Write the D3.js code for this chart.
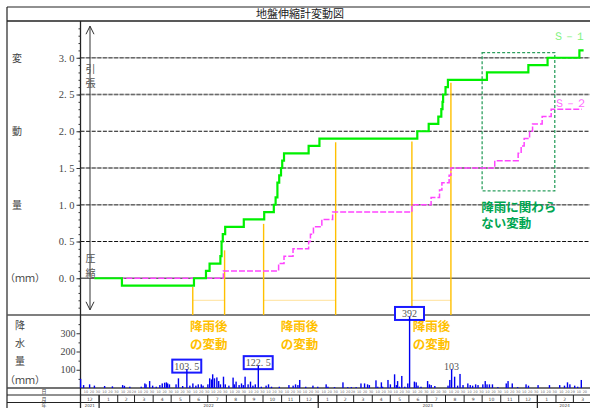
<!DOCTYPE html>
<html><head><meta charset="utf-8">
<script src="https://cdn.jsdelivr.net/npm/d3@7"></script>
<style>
html,body{margin:0;padding:0;background:#fff;}
svg{display:block;}
</style></head>
<body>
<svg id="chart" width="590" height="408"></svg>
<script>
// ---- data ----
const chartTitle = "地盤伸縮計変動図";

// S-1 cumulative displacement (mm), step changes by date
const s1Steps = [
  ["2021-12-24", 0.0], ["2022-02-08", -0.1], ["2022-06-08", 0.0], ["2022-06-28", 0.1],
  ["2022-07-04", 0.2], ["2022-07-22", 0.3], ["2022-07-24", 0.5], ["2022-07-26", 0.6],
  ["2022-07-30", 0.7], ["2022-08-30", 0.8], ["2022-10-03", 0.9], ["2022-10-19", 1.0],
  ["2022-10-22", 1.1], ["2022-10-25", 1.3], ["2022-10-28", 1.4], ["2022-10-31", 1.5],
  ["2022-11-02", 1.6], ["2022-11-05", 1.7], ["2022-12-16", 1.8], ["2023-01-03", 1.9],
  ["2023-06-15", 2.0], ["2023-07-04", 2.1], ["2023-07-20", 2.2], ["2023-07-25", 2.3],
  ["2023-07-27", 2.4], ["2023-07-28", 2.5], ["2023-08-01", 2.6], ["2023-08-05", 2.7],
  ["2023-10-09", 2.8], ["2023-12-17", 2.9], ["2024-01-18", 3.0], ["2024-03-11", 3.1],
  ["2024-03-18", 3.1]
];

// S-2 cumulative displacement (mm)
const s2Steps = [
  ["2021-12-24", 0.0], ["2022-07-27", 0.1], ["2022-10-27", 0.2], ["2022-11-05", 0.3],
  ["2022-11-20", 0.4], ["2022-12-16", 0.5], ["2022-12-19", 0.6], ["2022-12-24", 0.7],
  ["2023-01-07", 0.8], ["2023-01-25", 0.9], ["2023-06-06", 1.0], ["2023-07-08", 1.1],
  ["2023-07-22", 1.2], ["2023-07-26", 1.3], ["2023-08-07", 1.4], ["2023-08-10", 1.5],
  ["2023-10-22", 1.6], ["2023-11-30", 1.7], ["2023-12-05", 1.8], ["2023-12-10", 1.9],
  ["2023-12-19", 2.0], ["2023-12-24", 2.1], ["2024-01-09", 2.2], ["2024-01-24", 2.3],
  ["2024-03-15", 2.3]
];

// daily rainfall (mm)
const rainDays = [
  ["2021-12-01",50],["2021-12-06",16],["2021-12-16",20],["2021-12-24",13],
  ["2022-01-10",11],["2022-01-23",9],["2022-02-09",16],["2022-02-12",12],["2022-02-21",7],
  ["2022-03-12",7],["2022-03-18",25],["2022-03-20",20],["2022-03-26",38],["2022-03-31",13],
  ["2022-04-06",7],["2022-04-12",16],["2022-04-16",25],["2022-04-20",29],["2022-04-23",31],
  ["2022-04-25",25],["2022-04-28",20],["2022-05-09",20],["2022-05-13",53],["2022-05-20",11],
  ["2022-05-27",103.5],["2022-06-01",13],["2022-06-06",25],["2022-06-11",13],["2022-06-15",20],
  ["2022-06-20",20],["2022-06-23",13],["2022-07-01",20],["2022-07-04",53],["2022-07-07",47],
  ["2022-07-09",75],["2022-07-12",53],["2022-07-16",58],["2022-07-19",38],["2022-07-22",20],
  ["2022-07-27",62],["2022-07-30",20],["2022-08-05",13],["2022-08-12",57],["2022-08-14",20],
  ["2022-08-17",35],["2022-08-22",16],["2022-08-26",25],["2022-08-29",16],["2022-09-01",62],
  ["2022-09-06",20],["2022-09-10",35],["2022-09-14",13],["2022-09-18",20],["2022-09-23",122.5],
  ["2022-09-28",7],["2022-10-06",13],["2022-10-10",20],["2022-10-15",7],["2022-10-28",7],
  ["2022-11-13",16],["2022-11-20",13],["2022-11-24",20],["2022-11-28",16],["2022-12-01",44],
  ["2022-12-11",7],["2022-12-23",13],["2022-12-31",7],["2023-01-14",20],["2023-01-17",7],
  ["2023-01-28",5],["2023-02-11",31],["2023-02-19",5],["2023-02-25",5],["2023-03-05",5],
  ["2023-03-13",25],["2023-03-19",25],["2023-03-24",20],["2023-03-27",16],["2023-04-07",42],
  ["2023-04-10",7],["2023-04-16",31],["2023-04-18",7],["2023-04-27",44],["2023-05-01",20],
  ["2023-05-08",75],["2023-05-11",16],["2023-05-13",38],["2023-05-16",7],["2023-05-20",66],
  ["2023-05-25",7],["2023-05-30",25],["2023-06-02",392],["2023-06-10",35],["2023-06-13",31],
  ["2023-06-16",13],["2023-06-21",7],["2023-07-02",38],["2023-07-05",20],["2023-07-08",16],
  ["2023-07-14",11],["2023-08-05",13],["2023-08-08",44],["2023-08-11",103],["2023-08-16",62],
  ["2023-08-21",13],["2023-08-25",77],["2023-08-30",16],["2023-09-07",25],["2023-09-11",16],
  ["2023-09-15",13],["2023-09-20",20],["2023-09-24",16],["2023-10-02",20],["2023-10-06",38],
  ["2023-10-09",20],["2023-10-13",20],["2023-10-18",20],["2023-10-27",5],["2023-11-10",25],
  ["2023-11-13",38],["2023-11-20",25],["2023-11-29",5],["2023-12-13",20],["2023-12-17",13],
  ["2024-01-02",16],["2024-01-21",16],["2024-02-07",16],["2024-02-15",13],["2024-02-20",31],
  ["2024-02-24",20],["2024-03-03",13],["2024-03-08",7],["2024-03-14",44]
];

// rainfall values called out on the chart
const boxedRain = ["2022-05-27", "2022-09-23", "2023-06-02"];
const plainRain = ["2023-08-11"];

// post-rain displacement windows: start, end, marker top at start, marker top at end (mm)
const rainWindows = [
  ["2022-06-06", "2022-07-29", -0.12, 0.38],
  ["2022-10-02", "2023-01-30", 0.74, 1.85],
  ["2023-06-06", "2023-08-10", 1.86, 2.66]
];
const rainWindowLabel = ["降雨後", "の変動"];

// window of displacement not related to rain
const dryWindow = { from: "2023-10-01", to: "2024-01-30", low: 1.19, high: 3.07 };
const dryWindowLabel = ["降雨に関わら", "ない変動"];

const dispTicks = [0.0, 0.5, 1.0, 1.5, 2.0, 2.5, 3.0];
const rainTicks = [100, 200, 300];
const dispAxisTitle = ["変", "動", "量", "（ｍｍ）"];
const rainAxisTitle = ["降", "水", "量", "（ｍｍ）"];
const seriesNames = ["Ｓ－１", "Ｓ－２"];
const dayLabels = [10, 20, 30];

// ---- drawing ----
const parse = d3.timeParse("%Y-%m-%d");
const svg = d3.select("#chart");
const serifNum = "'Liberation Serif','DejaVu Serif',serif";
const cjk = "'Noto Sans CJK JP','Noto Sans',sans-serif";

const x = d3.scaleTime().domain([new Date(2021, 11, 1), new Date(2024, 3, 1)]).range([80.5, 592]);
const y = d3.scaleLinear().domain([-0.5, 3.5]).range([315, 21]);
const yr = d3.scaleLinear().domain([0, 400]).range([388, 315]);
const X0 = 80.5, X1 = 596;

// frame & title row
svg.append("line").attr("x1", 7).attr("x2", 7).attr("y1", 7).attr("y2", 410).attr("stroke", "#222").attr("stroke-width", 1.2);
svg.append("line").attr("x1", 7).attr("x2", 600).attr("y1", 7).attr("y2", 7).attr("stroke", "#222").attr("stroke-width", 1.2);
svg.append("line").attr("x1", 7).attr("x2", 600).attr("y1", 21).attr("y2", 21).attr("stroke", "#222").attr("stroke-width", 1.5);
svg.append("text").attr("x", 300).attr("y", 18).attr("text-anchor", "middle")
  .attr("font-family", cjk).attr("font-size", 11).attr("fill", "#222").text(chartTitle);

// displacement grid
dispTicks.forEach(v => {
  if (v === 0) return;
  const dark = (v === 2.0 || v === 0.5);
  if (!dark) {
    svg.append("line").attr("x1", X0).attr("x2", X1).attr("y1", y(v)).attr("y2", y(v))
      .attr("stroke", "#c8c8c8").attr("stroke-width", 1.4);
  }
  svg.append("line").attr("x1", X0).attr("x2", X1).attr("y1", y(v)).attr("y2", y(v))
    .attr("stroke", dark ? "#111" : "#6a6a6a").attr("stroke-width", dark ? 1 : 1.4)
    .attr("stroke-dasharray", "4,1.6");
});
svg.append("line").attr("x1", X0).attr("x2", X1).attr("y1", y(0)).attr("y2", y(0))
  .attr("stroke", "#666").attr("stroke-width", 1.5);

// panel separator and calendar rows
svg.append("line").attr("x1", 7).attr("x2", 600).attr("y1", 315).attr("y2", 315).attr("stroke", "#555").attr("stroke-width", 1.6);
svg.append("line").attr("x1", 7).attr("x2", 600).attr("y1", 388).attr("y2", 388).attr("stroke", "#444").attr("stroke-width", 1.5);
svg.append("line").attr("x1", 7).attr("x2", 600).attr("y1", 395).attr("y2", 395).attr("stroke", "#222").attr("stroke-width", 1);
svg.append("line").attr("x1", 7).attr("x2", 600).attr("y1", 402.5).attr("y2", 402.5).attr("stroke", "#222").attr("stroke-width", 1);

// left axis
svg.append("line").attr("x1", X0).attr("x2", X0).attr("y1", 21).attr("y2", 410).attr("stroke", "#222").attr("stroke-width", 1.3);
const dAxis = svg.append("g").attr("transform", `translate(${X0},0)`)
  .call(d3.axisLeft(y).tickValues(d3.range(-0.4, 3.45, 0.1)).tickSize(2).tickFormat(""));
dAxis.select(".domain").remove();
dAxis.selectAll("line").attr("stroke", "#333");
const dMajor = svg.append("g").attr("transform", `translate(${X0},0)`)
  .call(d3.axisLeft(y).tickValues(dispTicks).tickSize(4).tickPadding(2)
    .tickFormat(d => d3.format(".1f")(d).replace(".", ". ")));
dMajor.select(".domain").remove();
dMajor.selectAll("line").attr("stroke", "#333");
dMajor.selectAll("text").attr("font-family", serifNum).attr("font-size", 10.5).attr("fill", "#444");

const rAxis = svg.append("g").attr("transform", `translate(${X0},0)`)
  .call(d3.axisLeft(yr).tickValues([50, 150, 250, 350]).tickSize(2).tickFormat(""));
rAxis.select(".domain").remove();
rAxis.selectAll("line").attr("stroke", "#333");
const rMajor = svg.append("g").attr("transform", `translate(${X0},0)`)
  .call(d3.axisLeft(yr).tickValues(rainTicks).tickSize(4).tickPadding(1));
rMajor.select(".domain").remove();
rMajor.selectAll("line").attr("stroke", "#333");
rMajor.selectAll("text").attr("font-family", serifNum).attr("font-size", 10).attr("fill", "#444");

// axis titles
const dTitleY = [3.0, 2.0, 1.0, 0.0];
dispAxisTitle.forEach((t, i) => {
  svg.append("text").attr("x", i === 3 ? 25 : 17).attr("y", y(dTitleY[i]) + 4).attr("text-anchor", "middle")
    .attr("font-family", cjk).attr("font-size", 10).attr("fill", "#444").text(t);
});
const rTitleY = [326, 344, 362, 381];
rainAxisTitle.forEach((t, i) => {
  svg.append("text").attr("x", i === 3 ? 25 : 20).attr("y", rTitleY[i] + 3).attr("text-anchor", "middle")
    .attr("font-family", cjk).attr("font-size", 10).attr("fill", "#444").text(t);
});

// tension / compression arrows
const ax = 90;
svg.append("path").attr("d", `M${ax},${y(0.02)}V${y(3.43)}M${ax - 4},${y(3.32)}L${ax},${y(3.43)}L${ax + 4},${y(3.32)}`)
  .attr("fill", "none").attr("stroke", "#333").attr("stroke-width", 1);
svg.append("path").attr("d", `M${ax},${y(0)}V${y(-0.43)}M${ax - 4},${y(-0.32)}L${ax},${y(-0.43)}L${ax + 4},${y(-0.32)}`)
  .attr("fill", "none").attr("stroke", "#333").attr("stroke-width", 1);
[["引", 2.85], ["張", 2.66], ["圧", 0.27], ["縮", 0.07]].forEach(([t, v]) => {
  svg.append("text").attr("x", ax + 0.5).attr("y", y(v) + 4).attr("text-anchor", "middle")
    .attr("font-family", cjk).attr("font-size", 10).attr("fill", "#555").text(t);
});

// rain windows (orange markers)
const orange = "#ffc000";
rainWindows.forEach(([a, b, ta, tb]) => {
  const xa = x(parse(a)), xb = x(parse(b));
  svg.append("line").attr("x1", xa).attr("x2", xb).attr("y1", y(-0.3)).attr("y2", y(-0.3))
    .attr("stroke", "#ffe29a").attr("stroke-width", 1);
  svg.append("line").attr("x1", xa).attr("x2", xa).attr("y1", y(ta)).attr("y2", y(-0.5))
    .attr("stroke", orange).attr("stroke-width", 1.4);
  svg.append("line").attr("x1", xb).attr("x2", xb).attr("y1", y(tb)).attr("y2", y(-0.5))
    .attr("stroke", orange).attr("stroke-width", 1.4);
});

// dry window box
svg.append("rect")
  .attr("x", x(parse(dryWindow.from))).attr("y", y(dryWindow.high))
  .attr("width", x(parse(dryWindow.to)) - x(parse(dryWindow.from)))
  .attr("height", y(dryWindow.low) - y(dryWindow.high))
  .attr("fill", "none").attr("stroke", "#2ea060").attr("stroke-width", 1.3).attr("stroke-dasharray", "3,2");
dryWindowLabel.forEach((t, i) => {
  svg.append("text").attr("x", x(parse(dryWindow.from)) - 1).attr("y", y(dryWindow.low) + 21 + i * 16.5)
    .attr("font-family", cjk).attr("font-weight", "bold").attr("font-size", 12.5).attr("fill", "#00a651").text(t);
});

// series
const toPts = arr => arr.map(([d, v]) => ({ date: parse(d), v }));
const line = d3.line().x(d => x(d.date)).y(d => y(d.v)).curve(d3.curveStepAfter);
const p1 = toPts(s1Steps), p2 = toPts(s2Steps);
svg.append("path").attr("d", line(p2)).attr("fill", "none").attr("stroke", "#ff44ff")
  .attr("stroke-width", 1.5).attr("stroke-dasharray", "6,2");
svg.append("path").attr("d", line(p1)).attr("fill", "none").attr("stroke", "#00f000")
  .attr("stroke-width", 2.2);

// series names
const last2 = p2[p2.length - 1];
svg.append("text").attr("x", 569).attr("y", y(3.24)).attr("text-anchor", "middle")
  .attr("font-family", serifNum).attr("font-size", 11).attr("fill", "#7cf27c").text(seriesNames[0]);
svg.append("text").attr("x", 570).attr("y", y(last2.v) - 2).attr("text-anchor", "middle")
  .attr("font-family", serifNum).attr("font-size", 11).attr("fill", "#ff66ff").text(seriesNames[1]);

// rain window labels
const labelCenters = rainWindows.map(([a, b]) => (x(parse(a)) + x(parse(b))) / 2);
labelCenters.forEach(c => {
  rainWindowLabel.forEach((t, j) => {
    svg.append("text").attr("x", c).attr("y", 331 + j * 17.5).attr("text-anchor", "middle")
      .attr("font-family", cjk).attr("font-weight", "bold").attr("font-size", 12.5).attr("fill", orange).text(t);
  });
});

// rain bars with callouts
const rainPts = rainDays.map(([d, v]) => ({ key: d, date: parse(d), v }));
const fmtRain = v => (v % 1 === 0 ? String(v) : d3.format(".1f")(v).replace(".", ". "));
rainPts.filter(d => boxedRain.includes(d.key)).forEach(d => {
  const cx = x(d.date), cy = yr(d.v) - 3;
  svg.append("rect").attr("x", cx - 14.5).attr("y", cy - 6.5).attr("width", 29).attr("height", 13)
    .attr("fill", "#fff").attr("stroke", "#1a1aff").attr("stroke-width", 2);
  svg.append("text").attr("x", cx).attr("y", cy + 3.5).attr("text-anchor", "middle")
    .attr("font-family", serifNum).attr("font-size", 10).attr("fill", "#555").text(fmtRain(d.v));
});
rainPts.filter(d => plainRain.includes(d.key)).forEach(d => {
  svg.append("text").attr("x", x(d.date)).attr("y", yr(d.v) + 1).attr("text-anchor", "middle")
    .attr("font-family", serifNum).attr("font-size", 10).attr("fill", "#555").text(fmtRain(d.v));
});
svg.append("g").selectAll("rect").data(rainPts).join("rect")
  .attr("x", d => x(d.date) - 0.6).attr("width", 1.4)
  .attr("y", d => yr(d.v)).attr("height", d => yr(0) - yr(d.v))
  .attr("fill", "#0000f0");

// calendar rows: day / month / year
const months = d3.timeMonth.range(new Date(2021, 11, 1), new Date(2024, 3, 1));
const years = [2021, 2022, 2023, 2024];
const rowFont = "'DejaVu Sans',sans-serif";
months.forEach(m => {
  const xm = x(m), xn = x(d3.timeMonth.offset(m, 1));
  svg.append("line").attr("x1", xm).attr("x2", xm).attr("y1", 395).attr("y2", 402.5)
    .attr("stroke", "#222").attr("stroke-width", 1);
  svg.append("text").attr("x", (xm + xn) / 2).attr("y", 400.6).attr("text-anchor", "middle")
    .attr("font-family", rowFont).attr("font-size", 4.5).attr("fill", "#444").text(m.getMonth() + 1);
  const lastDay = d3.timeDay.offset(d3.timeMonth.offset(m, 1), -1).getDate();
  dayLabels.forEach(dd => {
    const day = Math.min(dd, lastDay);
    const xd = x(new Date(m.getFullYear(), m.getMonth(), day));
    if (xd > 586) return;
    svg.append("text").attr("x", xd).attr("y", 393.2).attr("text-anchor", "middle")
      .attr("font-family", rowFont).attr("font-size", 3.4).attr("fill", "#666").text(day);
  });
});
years.forEach(yv => {
  const a = Math.max(x(new Date(yv, 0, 1)), X0);
  const b = Math.min(x(new Date(yv + 1, 0, 1)), 592);
  if (yv > 2021) {
    svg.append("line").attr("x1", a).attr("x2", a).attr("y1", 395).attr("y2", 410)
      .attr("stroke", "#222").attr("stroke-width", 1.2);
  }
  svg.append("text").attr("x", (a + b) / 2).attr("y", 406.6).attr("text-anchor", "middle")
    .attr("font-family", rowFont).attr("font-size", 4).attr("fill", "#444").text(yv);
});
[["日", 393.2], ["月", 400.8], ["年", 407]].forEach(([t, yy]) => {
  svg.append("text").attr("x", 44).attr("y", yy).attr("text-anchor", "middle")
    .attr("font-family", cjk).attr("font-size", 5).attr("fill", "#444").text(t);
});
</script>
</body></html>
